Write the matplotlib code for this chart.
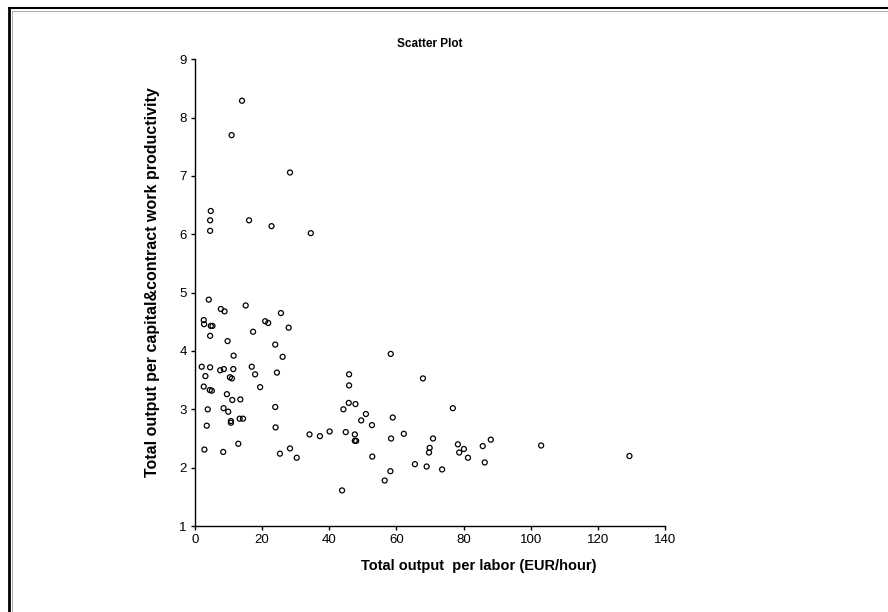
import matplotlib
matplotlib.use("Agg")
import matplotlib.pyplot as plt
from matplotlib.lines import Line2D

plt.rcParams['font.family'] = ['Liberation Sans', 'DejaVu Sans']

# labor productivity (EUR/hour) vs capital & contract work productivity
labor = [14.0, 10.9, 28.3, 4.7, 4.5, 4.5, 16.1, 22.8, 34.5,
         4.1, 7.7, 8.8, 15.1, 2.6, 2.7, 4.7, 5.2, 4.5, 20.9, 21.8,
         25.6, 17.3, 27.9, 9.7, 23.9, 11.5, 26.1, 2.0, 4.5, 3.1,
         7.5, 8.6, 11.4, 16.9, 17.9, 10.4, 11.0, 24.4, 19.4, 45.9,
         45.9, 2.6, 4.4, 5.0, 9.5, 11.1, 13.5,
         23.9, 3.8, 8.5, 9.9, 3.5, 10.7, 10.7, 13.3, 14.3, 24.0,
         2.8, 8.4, 12.9, 25.3, 28.3, 30.3, 34.1, 37.2, 40.1, 43.8,
         44.2, 45.8, 47.8, 44.9, 47.6, 47.6, 48.0, 49.5, 50.9, 52.7,
         52.8,
         58.3, 67.9, 76.8, 58.9, 58.4, 62.2, 70.9, 69.9, 69.7,
         78.3, 80.1, 78.7, 81.3, 85.7, 88.1, 86.3, 103.1, 65.5,
         69.0, 73.6, 58.2, 56.5, 129.4]
capital = [8.29, 7.70, 7.06, 6.40, 6.24, 6.06, 6.24, 6.14, 6.02,
           4.88, 4.72, 4.68, 4.78, 4.53, 4.46, 4.43, 4.43, 4.26, 4.51, 4.48,
           4.65, 4.33, 4.40, 4.17, 4.11, 3.92, 3.90, 3.73, 3.72, 3.57,
           3.67, 3.69, 3.69, 3.73, 3.60, 3.55, 3.53, 3.63, 3.38, 3.60,
           3.41, 3.39, 3.33, 3.32, 3.26, 3.16, 3.17,
           3.04, 3.00, 3.02, 2.96, 2.72, 2.80, 2.77, 2.84, 2.84, 2.69,
           2.31, 2.27, 2.41, 2.24, 2.33, 2.17, 2.57, 2.54, 2.62, 1.61,
           3.00, 3.11, 3.09, 2.61, 2.57, 2.46, 2.46, 2.81, 2.92, 2.73,
           2.19,
           3.95, 3.53, 3.02, 2.86, 2.50, 2.58, 2.50, 2.34, 2.26,
           2.40, 2.32, 2.26, 2.17, 2.37, 2.48, 2.09, 2.38, 2.06,
           2.02, 1.97, 1.94, 1.78, 2.20]

fig = plt.figure(figsize=(8.88, 6.12), dpi=100)
ax = fig.add_axes([0.2196, 0.1405, 0.5293, 0.7626])

ax.scatter(labor, capital, s=13, facecolors='none', edgecolors='black', linewidths=0.9)

ax.set_xlim(0, 140)
ax.set_ylim(1, 9)
ax.set_xticks(range(0, 141, 20))
ax.set_yticks(range(1, 10))
ax.spines['top'].set_visible(False)
ax.spines['right'].set_visible(False)
ax.spines['left'].set_linewidth(1.0)
ax.spines['bottom'].set_linewidth(1.0)
ax.tick_params(direction='out', length=3, width=1.0, labelsize=9.5, pad=3)

ax.set_title('Scatter Plot', fontsize=8.5, fontweight='bold', pad=9)
ax.set_xlabel('Total output  per labor (EUR/hour)', fontsize=10.5, fontweight='bold')
ax.set_ylabel('Total output per capital&contract work productivity', fontsize=11.5,
              fontweight='bold')
# labels sit off-centre in the original
ax.xaxis.set_label_coords(0.604, -0.07)
ax.yaxis.set_label_coords(-0.075, 0.523)

# outer frame, only top and left edges visible
fig.add_artist(Line2D([9 / 888, 9 / 888], [0, 1 - 8 / 612], color='black', lw=2.0, transform=fig.transFigure))
fig.add_artist(Line2D([9 / 888, 1], [1 - 8 / 612, 1 - 8 / 612], color='black', lw=1.5, transform=fig.transFigure))
fig.add_artist(Line2D([11.5 / 888, 11.5 / 888], [0, 1 - 10.5 / 612], color='#aaaaaa', lw=0.7, transform=fig.transFigure))
fig.add_artist(Line2D([11.5 / 888, 1], [1 - 10.5 / 612, 1 - 10.5 / 612], color='#aaaaaa', lw=0.7, transform=fig.transFigure))

fig.savefig('out.png', dpi=100)
